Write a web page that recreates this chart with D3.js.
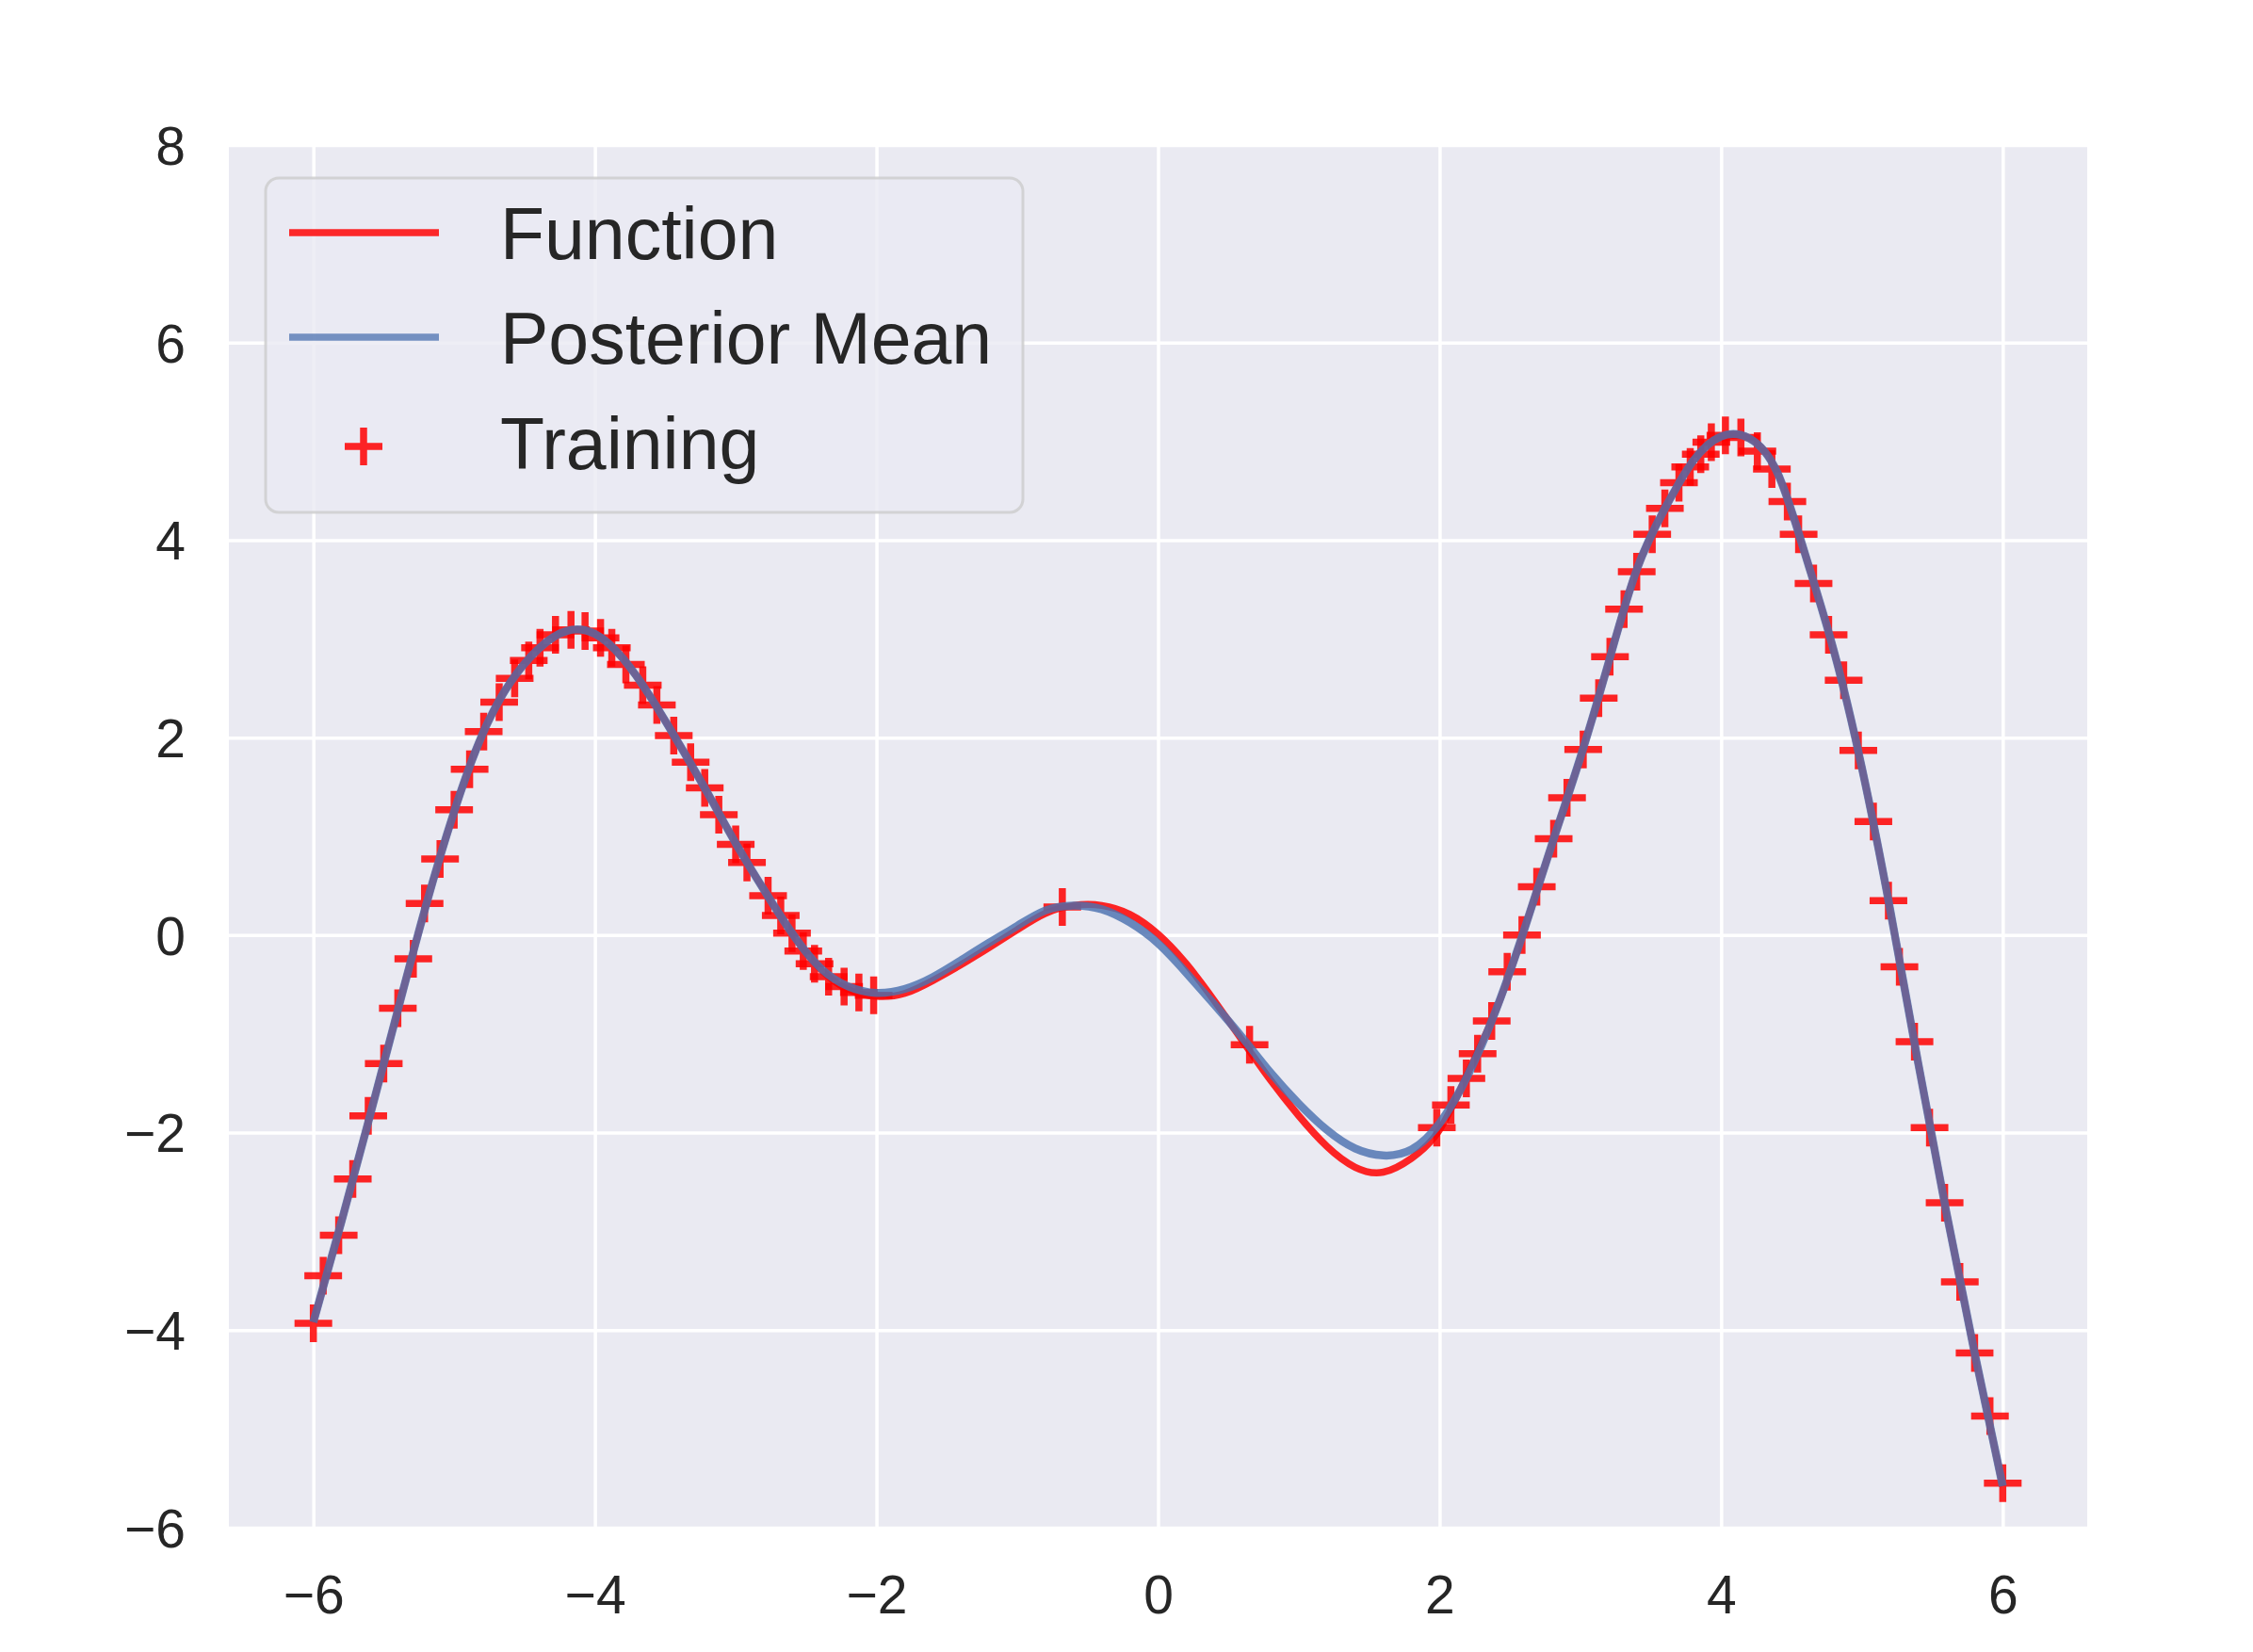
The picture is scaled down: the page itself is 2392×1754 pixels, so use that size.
<!DOCTYPE html>
<html>
<head>
<meta charset="utf-8">
<script src="https://cdn.jsdelivr.net/npm/d3@7"></script>
<style>
  html, body { margin: 0; padding: 0; background: #ffffff; }
  svg { display: block; }
</style>
</head>
<body>
<script>
// ---------------- data ----------------
const xGrid = [-6,-5.8,-5.6,-5.4,-5.2,-5,-4.8,-4.6,-4.4,-4.2,-4,-3.8,-3.6,-3.4,-3.2,-3,-2.8,-2.6,-2.4,-2.2,-2,-1.8,-1.6,-1.4,-1.2,-1,-0.8,-0.6,-0.4,-0.2,0,0.2,0.4,0.6,0.8,1,1.2,1.4,1.6,1.8,2,2.2,2.4,2.6,2.8,3,3.2,3.4,3.6,3.8,4,4.2,4.4,4.6,4.8,5,5.2,5.4,5.6,5.8,6];

const functionY = [-3.92,-2.90,-1.84,-0.76,0.30,1.25,2.03,2.56,2.90,3.08,3.05,2.80,2.40,1.93,1.44,0.93,0.46,0.02,-0.34,-0.55,-0.62,-0.59,-0.46,-0.30,-0.125,0.055,0.22,0.30,0.30,0.21,0.01,-0.29,-0.665,-1.07,-1.47,-1.83,-2.14,-2.35,-2.40,-2.26,-1.97,-1.40,-0.76,0.05,0.93,1.80,2.76,3.70,4.32,4.80,5.05,5.03,4.68,3.84,2.88,1.69,0.26,-1.30,-2.81,-4.23,-5.58];

const posteriorMeanY = [-3.92,-2.90,-1.84,-0.76,0.30,1.25,2.03,2.56,2.90,3.08,3.05,2.80,2.40,1.93,1.44,0.93,0.46,0.02,-0.33,-0.52,-0.585,-0.545,-0.425,-0.255,-0.077,0.094,0.25,0.30,0.262,0.128,-0.083,-0.381,-0.704,-1.04,-1.394,-1.707,-1.974,-2.161,-2.231,-2.172,-1.905,-1.42,-0.76,0.05,0.93,1.80,2.76,3.70,4.32,4.80,5.05,5.03,4.68,3.84,2.88,1.69,0.26,-1.30,-2.81,-4.23,-5.58];

const trainX = [-6.00,-5.93,-5.82,-5.72,-5.61,-5.50,-5.40,-5.29,-5.21,-5.10,-5.00,-4.89,-4.79,-4.68,-4.57,-4.47,-4.39,-4.28,-4.17,-4.07,-3.96,-3.88,-3.78,-3.66,-3.56,-3.44,-3.32,-3.22,-3.12,-3.00,-2.92,-2.77,-2.68,-2.60,-2.52,-2.44,-2.34,-2.23,-2.125,-2.02,-0.68,0.65,1.98,2.08,2.19,2.27,2.37,2.48,2.585,2.69,2.81,2.905,3.02,3.13,3.21,3.31,3.40,3.51,3.60,3.70,3.78,3.855,3.93,4.03,4.14,4.257,4.36,4.47,4.55,4.656,4.763,4.87,4.974,5.081,5.188,5.266,5.373,5.48,5.587,5.695,5.80,5.909,6.00];

const trainY = [-3.93,-3.45,-3.04,-2.47,-1.83,-1.30,-0.74,-0.24,0.32,0.77,1.27,1.68,2.06,2.36,2.60,2.78,2.91,3.04,3.09,3.08,3.01,2.91,2.74,2.53,2.33,2.02,1.75,1.49,1.22,0.92,0.735,0.40,0.20,0.02,-0.16,-0.29,-0.42,-0.52,-0.58,-0.61,0.285,-1.11,-1.95,-1.72,-1.45,-1.20,-0.87,-0.37,0.0,0.49,0.975,1.39,1.88,2.40,2.82,3.30,3.68,4.06,4.32,4.58,4.74,4.87,4.99,5.06,5.04,4.90,4.72,4.39,4.06,3.56,3.04,2.58,1.87,1.15,0.35,-0.32,-1.08,-1.95,-2.71,-3.51,-4.23,-4.87,-5.55];

const xTicks = [-6,-4,-2,0,2,4,6];
const xTickLabels = ["\u22126","\u22124","\u22122","0","2","4","6"];
const yTicks = [-6,-4,-2,0,2,4,6,8];
const yTickLabels = ["\u22126","\u22124","\u22122","0","2","4","6","8"];
const legendLabels = ["Function","Posterior Mean","Training"];

// ---------------- layout ----------------
const W = 2392, H = 1754;
const plot = {left: 243, right: 2216, top: 154, bottom: 1622};
const FONT = '"Liberation Sans", Arial, Helvetica, sans-serif';
const TEXT = '#262626';
const RED = '#ff0000', BLUE = '#4c72b0';

const svg = d3.select('body').append('svg')
  .attr('width', W).attr('height', H)
  .attr('font-family', FONT);
svg.append('rect').attr('width', W).attr('height', H).attr('fill', '#ffffff');

const x = d3.scaleLinear().domain([-6.6, 6.6]).range([plot.left, plot.right]);
const y = d3.scaleLinear().domain([-6, 8]).range([plot.bottom, plot.top]);

// background
svg.append('rect')
  .attr('x', plot.left).attr('y', plot.top)
  .attr('width', plot.right - plot.left).attr('height', plot.bottom - plot.top)
  .attr('fill', '#eaeaf2');

// axes with gridlines
const gx = svg.append('g').attr('transform', `translate(0,${plot.bottom})`)
  .call(d3.axisBottom(x).tickValues(xTicks).tickFormat((d, i) => xTickLabels[i])
    .tickSize(-(plot.bottom - plot.top)));
const gy = svg.append('g').attr('transform', `translate(${plot.left},0)`)
  .call(d3.axisLeft(y).tickValues(yTicks).tickFormat((d, i) => yTickLabels[i])
    .tickSize(-(plot.right - plot.left)));

[gx, gy].forEach(g => {
  g.select('.domain').remove();
  g.selectAll('.tick line').attr('stroke', '#ffffff').attr('stroke-width', 3.5);
  g.selectAll('.tick text')
    .attr('fill', TEXT).attr('font-size', 57).attr('font-family', FONT);
});
gx.selectAll('.tick text').attr('y', 91).attr('dy', 0);
gy.selectAll('.tick text').attr('x', -46).attr('dy', '0.358em');

// clip
svg.append('clipPath').attr('id', 'clip').append('rect')
  .attr('x', plot.left).attr('y', plot.top)
  .attr('width', plot.right - plot.left).attr('height', plot.bottom - plot.top);
const layer = svg.append('g').attr('clip-path', 'url(#clip)');

const line = d3.line().x(d => x(d[0])).y(d => y(d[1])).curve(d3.curveNatural);

// function line
layer.append('path')
  .datum(xGrid.map((v, i) => [v, functionY[i]]))
  .attr('d', line)
  .attr('fill', 'none').attr('stroke', RED).attr('stroke-opacity', 0.85)
  .attr('stroke-width', 7.5).attr('stroke-linejoin', 'round');

// training crosses
const crossPath = 'M-20,0H20M0,-20V20';
layer.append('g').selectAll('path')
  .data(trainX.map((v, i) => [v, trainY[i]]))
  .join('path')
  .attr('transform', d => `translate(${x(d[0])},${y(d[1])})`)
  .attr('d', crossPath)
  .attr('fill', 'none').attr('stroke', RED).attr('stroke-opacity', 0.85)
  .attr('stroke-width', 7.5);

// posterior mean
layer.append('path')
  .datum(xGrid.map((v, i) => [v, posteriorMeanY[i]]))
  .attr('d', line)
  .attr('fill', 'none').attr('stroke', BLUE).attr('stroke-opacity', 0.82)
  .attr('stroke-width', 8.5).attr('stroke-linejoin', 'round');

// ---------------- legend ----------------
const leg = svg.append('g');
leg.append('rect')
  .attr('x', 282).attr('y', 189).attr('width', 804).attr('height', 355)
  .attr('rx', 14).attr('ry', 14)
  .attr('fill', '#eaeaf2').attr('fill-opacity', 0.8)
  .attr('stroke', '#cccccc').attr('stroke-opacity', 0.8).attr('stroke-width', 3);

const rowY = [247, 358, 474];
const baseY = [275, 386, 498];
leg.append('line').attr('x1', 307).attr('x2', 466).attr('y1', rowY[0]).attr('y2', rowY[0])
  .attr('stroke', RED).attr('stroke-opacity', 0.83).attr('stroke-width', 7.5);
leg.append('line').attr('x1', 307).attr('x2', 466).attr('y1', rowY[1]).attr('y2', rowY[1])
  .attr('stroke', BLUE).attr('stroke-opacity', 0.75).attr('stroke-width', 7.5);
leg.append('path').attr('transform', `translate(386,${rowY[2]})`).attr('d', crossPath)
  .attr('fill', 'none').attr('stroke', RED).attr('stroke-opacity', 0.85).attr('stroke-width', 7.5);

leg.selectAll('text.lab').data(legendLabels).join('text')
  .attr('class', 'lab')
  .attr('x', 531).attr('y', (d, i) => baseY[i])
  .attr('fill', TEXT).attr('font-size', 77).attr('font-family', FONT)
  .text(d => d);
</script>
</body>
</html>
